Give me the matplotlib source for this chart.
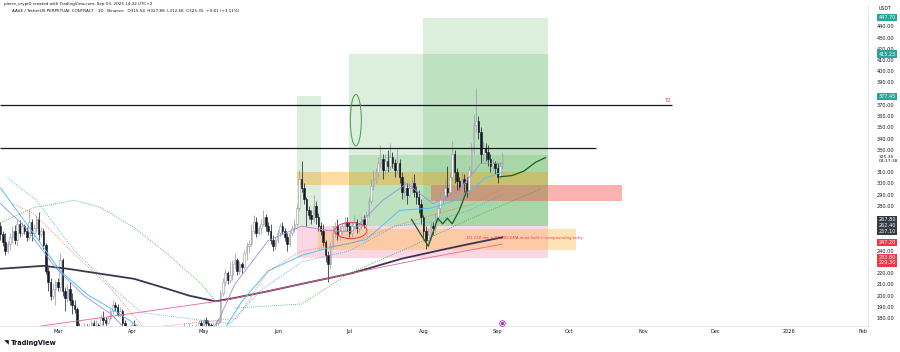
import numpy as np
import pandas as pd
import matplotlib
matplotlib.use("Agg")
import matplotlib.pyplot as plt
import matplotlib.dates as mdates
from matplotlib.patches import Rectangle, Ellipse

# -------------------- DATA --------------------
first_day = "2025-02-05"
first_open = 262.0
closes = [255, 248, 240, 246, 252, 258, 250, 264, 256, 262, 258, 252, 266, 256, 260, 268, 255, 258, 245, 222,
          212, 200, 206, 212, 208, 232, 204, 198, 206, 196, 192, 188, 170, 160, 168, 172, 166, 172, 176, 170,
          174, 170, 180, 178, 176, 180, 186, 192, 190, 184, 186, 176, 168, 166, 170, 174, 160, 156, 158, 152,
          140, 138, 130, 148, 140, 142, 146, 140, 142, 138, 136, 140, 142, 146, 144, 150, 162, 170, 168, 172,
          170, 166, 172, 176, 174, 178, 176, 174, 172, 174, 176, 178, 202, 212, 220, 214, 218, 228, 232, 222,
          228, 226, 238, 244, 246, 258, 266, 256, 260, 264, 270, 262, 258, 250, 244, 250, 256, 262, 258, 252,
          246, 256, 260, 264, 278, 304, 296, 286, 276, 272, 268, 280, 270, 262, 258, 248, 236, 228, 244, 256,
          262, 254, 258, 262, 266, 262, 256, 262, 266, 260, 262, 268, 264, 272, 284, 298, 304, 310, 318, 322,
          312, 320, 316, 324, 318, 312, 318, 306, 292, 296, 290, 296, 300, 292, 288, 282, 270, 258, 250, 254,
          262, 260, 270, 278, 286, 290, 296, 292, 306, 326, 310, 302, 298, 304, 300, 294, 312, 330, 352, 356,
          346, 326, 332, 328, 322, 316, 318, 314, 306, 315.54, 325.35]
highs = [266, 258, 256, 249, 256, 262, 263, 268, 267, 266, 264, 261, 277, 268, 264, 272, 275, 261, 260, 247,
         226, 216, 211, 214, 216, 238, 234, 208, 210, 212, 202, 196, 190, 176, 171, 176, 175, 175, 178, 178,
         178, 176, 184, 186, 181, 182, 188, 196, 194, 193, 190, 188, 178, 172, 174, 176, 178, 162, 162, 160,
         154, 146, 144, 150, 150, 146, 150, 148, 147, 144, 140, 142, 144, 148, 149, 156, 166, 176, 172, 176,
         174, 173, 175, 178, 178, 180, 181, 178, 176, 177, 178, 180, 205, 216, 224, 222, 230, 232, 238, 234,
         231, 230, 241, 248, 250, 264, 272, 270, 263, 268, 276, 273, 266, 264, 254, 252, 259, 265, 266, 260,
         256, 258, 263, 268, 282, 312, 320, 300, 288, 280, 276, 290, 284, 274, 266, 264, 250, 240, 248, 262,
         266, 268, 262, 265, 270, 270, 266, 266, 272, 268, 264, 271, 272, 275, 288, 304, 312, 314, 324, 334,
         326, 326, 330, 336, 328, 322, 332, 322, 310, 302, 300, 300, 306, 308, 298, 294, 286, 272, 262, 260,
         266, 266, 274, 282, 292, 298, 304, 316, 310, 338, 330, 314, 306, 310, 308, 306, 316, 336, 362, 385,
         360, 350, 338, 336, 334, 326, 322, 320, 318, 318, 327.88]
lows = [250, 244, 236, 238, 241, 247, 246, 244, 252, 253, 255, 249, 250, 249, 252, 257, 250, 252, 242, 219,
        204, 196, 197, 192, 204, 204, 200, 186, 194, 192, 184, 185, 166, 155, 152, 162, 162, 164, 170, 166,
        168, 166, 169, 174, 173, 175, 178, 184, 186, 182, 181, 172, 165, 163, 164, 167, 157, 150, 150, 150,
        136, 126, 128, 124, 136, 137, 139, 136, 138, 135, 132, 134, 138, 140, 141, 142, 148, 160, 162, 165,
        167, 164, 163, 169, 168, 172, 173, 171, 168, 169, 170, 172, 176, 200, 209, 210, 211, 214, 224, 218,
        219, 220, 224, 232, 238, 244, 255, 252, 254, 255, 262, 258, 254, 246, 240, 241, 247, 252, 255, 249,
        240, 244, 253, 257, 262, 276, 292, 282, 262, 268, 264, 266, 264, 258, 254, 244, 230, 212, 224, 242,
        252, 250, 250, 255, 258, 258, 252, 252, 260, 256, 257, 259, 260, 261, 270, 282, 294, 300, 306, 314,
        304, 308, 310, 312, 314, 306, 308, 300, 286, 286, 282, 288, 292, 288, 282, 274, 264, 252, 242, 246,
        250, 254, 256, 266, 274, 282, 284, 288, 288, 302, 300, 294, 294, 296, 292, 288, 290, 308, 326, 346,
        340, 318, 320, 320, 316, 310, 312, 308, 300, 304, 312.66]

# indicator lines, values read at anchor dates
ma_long_dates = ["2025-02-05", "2025-02-23", "2025-03-05", "2025-03-19", "2025-04-02", "2025-04-16", "2025-04-25",
                 "2025-05-06", "2025-05-14", "2025-05-28", "2025-06-11", "2025-07-02", "2025-07-23", "2025-08-09",
                 "2025-08-20", "2025-09-03"]
ma_long_vals = [224, 226.6, 224, 219.5, 215, 206, 200, 195, 198, 204, 210.5, 220, 233, 241, 246, 252]

ma_pink_dates = ["2025-02-22", "2025-04-02", "2025-05-10", "2025-06-11", "2025-07-02", "2025-08-01", "2025-09-03"]
ma_pink_vals = [173, 184.5, 196, 210.5, 220, 233, 246]

ema_purple_dates = ["2025-02-05", "2025-02-15", "2025-02-28", "2025-03-12", "2025-03-23", "2025-03-29", "2025-04-20",
                    "2025-05-06", "2025-05-14", "2025-05-28", "2025-06-11", "2025-06-22", "2025-07-02", "2025-07-15",
                    "2025-07-25", "2025-08-05", "2025-08-15", "2025-08-25", "2025-09-03"]
ema_purple_vals = [282, 262, 225, 200, 184, 171, 150, 172, 210, 249, 262, 258, 257, 285, 300, 282, 292, 318, 318]

ema_blue_dates = ["2025-02-05", "2025-02-18", "2025-03-02", "2025-03-14", "2025-03-23", "2025-04-05", "2025-04-25",
                  "2025-05-10", "2025-05-17", "2025-05-28", "2025-06-11", "2025-06-25", "2025-07-08", "2025-07-22",
                  "2025-08-04", "2025-08-16", "2025-08-27", "2025-09-03"]
ema_blue_vals = [296, 258, 222, 200, 189, 171, 152, 171, 195, 222, 236, 244, 250, 276, 278, 286, 305, 310]

orange_dot_dates = ["2025-02-10", "2025-02-19", "2025-03-08", "2025-03-23", "2025-04-06", "2025-05-15",
                    "2025-05-28", "2025-06-11", "2025-07-01", "2025-07-20", "2025-08-05", "2025-08-22", "2025-09-03"]
orange_dot_vals = [282, 273, 237, 207, 171, 180, 222, 240, 246, 262, 272, 282, 296]

blue_dot_dates = ["2025-02-08", "2025-02-20", "2025-03-08", "2025-03-25", "2025-04-05", "2025-05-12", "2025-05-25",
                  "2025-06-11", "2025-07-01", "2025-07-20", "2025-08-05", "2025-08-20", "2025-09-03"]
blue_dot_vals = [305, 285, 240, 205, 185, 175, 205, 230, 240, 262, 266, 276, 290]

green_dot_dates = ["2025-02-05", "2025-02-19", "2025-03-08", "2025-03-19", "2025-04-02", "2025-04-16", "2025-04-30",
                   "2025-05-06"]
green_dot_vals = [265, 278.5, 285, 278.5, 260.6, 237, 210.5, 195]
green_dot2_dates = ["2025-05-14", "2025-06-11", "2025-07-01", "2025-07-26", "2025-08-20", "2025-09-19"]
green_dot2_vals = [189, 192.6, 220, 243, 268, 295]

path_dates = ["2025-07-27", "2025-08-03", "2025-08-07", "2025-08-09", "2025-08-11", "2025-08-13", "2025-08-16",
              "2025-08-19"]
path_vals = [268, 244, 269, 264, 269, 264, 276, 293]
curve_dates = ["2025-09-02", "2025-09-07", "2025-09-12", "2025-09-17", "2025-09-21"]
curve_vals = [306, 307, 311, 319, 323]

# position / zone drawings: (start, end, low, high)
zones_green = [("2025-06-09", "2025-06-19", 262.4, 377.5),
               ("2025-07-01", "2025-09-22", 262.4, 415.23),
               ("2025-08-01", "2025-09-22", 262.4, 447.7),
               ("2025-07-01", "2025-09-22", 262.4, 325.0)]
zone_pink = ("2025-06-09", "2025-09-22", 233.8, 262.4)
zone_orange = ("2025-06-09", "2025-09-22", 299.0, 310.0)
zone_orange_low = ("2025-06-18", "2025-10-04", 241.0, 259.7)
zone_red = ("2025-08-04", "2025-10-23", 284.0, 299.0)

level_t2 = 369.8
level_t2_end = "2025-11-13"
level_b = 331.3
level_b_end = "2025-10-12"

price_ticks = list(range(180, 450, 10))
month_ticks = ["2025-03-01", "2025-04-01", "2025-05-01", "2025-06-01", "2025-07-01", "2025-08-01", "2025-09-01",
               "2025-10-01", "2025-11-01", "2025-12-01", "2026-01-01", "2026-02-01"]
month_labels = ["Mar", "Apr", "May", "Jun", "Jul", "Aug", "Sep", "Oct", "Nov", "Dec", "2026", "Feb"]

badges = [(447.70, "#26a69a", "447.70"), (415.23, "#26a69a", "415.23"), (377.45, "#26a69a", "377.45"),
          (267.80, "#363a45", "267.80"), (262.40, "#363a45", "262.40"), (257.10, "#363a45", "257.10"),
          (247.20, "#f23645", "247.20"), (233.80, "#f23645", "233.80"), (229.30, "#f23645", "229.30")]
last_price = 325.35

# -------------------- PLOT --------------------
def d(s):
    return mdates.date2num(pd.Timestamp(s))

dates = mdates.date2num(pd.date_range(first_day, periods=len(closes), freq="D"))
c = np.array(closes, dtype=float)
o = np.concatenate([[first_open], c[:-1]])
h = np.array(highs, dtype=float)
l = np.array(lows, dtype=float)

fig = plt.figure(figsize=(9, 3.52), dpi=100)
ax = fig.add_axes([0, 26 / 352, 868 / 900, 321 / 352])
ax.set_xlim(d("2025-02-05") - 0.2, d("2026-02-03"))
ax.set_ylim(173, 459)

# zones
def rect(z, color, alpha, zorder=1):
    s, e, lo, hi = z
    ax.add_patch(Rectangle((d(s), lo), d(e) - d(s), hi - lo, facecolor=color, alpha=alpha,
                           edgecolor="none", zorder=zorder))

for z in zones_green:
    rect(z, "#4caf50", 0.2)
rect(zone_pink, "#f48fb1", 0.35)
rect(zone_orange, "#ff9800", 0.35)
rect(zone_orange_low, "#ffb74d", 0.4)
rect(zone_red, "#f44336", 0.4)

# candles
up = c >= o
ax.vlines(dates[up], l[up], h[up], color="#9598a1", lw=0.5, zorder=3)
ax.vlines(dates[~up], l[~up], h[~up], color="#131722", lw=0.5, zorder=3)
body_lo = np.minimum(o, c)
body_h = np.maximum(np.abs(c - o), 0.4)
ax.bar(dates[up], body_h[up], bottom=body_lo[up], width=0.65, color="white", edgecolor="#9598a1",
       linewidth=0.4, zorder=4)
ax.bar(dates[~up], body_h[~up], bottom=body_lo[~up], width=0.65, color="#131722", edgecolor="#131722",
       linewidth=0.4, zorder=4)

# indicators
def line(ds, vs, **kw):
    ax.plot([d(x) for x in ds], vs, zorder=5, **kw)

line(ma_long_dates, ma_long_vals, color="#3b3452", lw=1.3)
line(ma_pink_dates, ma_pink_vals, color="#f06292", lw=0.6)
line(ema_purple_dates, ema_purple_vals, color="#9c8ce0", lw=0.6)
line(ema_blue_dates, ema_blue_vals, color="#4fc3f7", lw=0.7)
line(orange_dot_dates, orange_dot_vals, color="#ff7043", lw=0.6, ls=(0, (1, 1.5)))
line(blue_dot_dates, blue_dot_vals, color="#42a5f5", lw=0.6, ls=(0, (1, 1.5)))
line(green_dot_dates, green_dot_vals, color="#43a047", lw=0.6, ls=(0, (1, 1.5)))
line(green_dot2_dates, green_dot2_vals, color="#43a047", lw=0.6, ls=(0, (1, 1.5)))
line(path_dates, path_vals, color="#1b5e20", lw=0.9)
line(curve_dates, curve_vals, color="#1b5e20", lw=0.9)

# horizontal levels
ax.hlines(level_t2, ax.get_xlim()[0], d(level_t2_end), color="#131722", lw=0.9, zorder=6)
ax.hlines(level_b, ax.get_xlim()[0], d(level_b_end), color="#131722", lw=0.9, zorder=6)
ax.text(d(level_t2_end), level_t2 + 1.5, "T2", color="#f23645", fontsize=3.8, ha="right", va="bottom",
        zorder=7)

# ellipses
ax.add_patch(Ellipse((d("2025-07-03") + 0.7, 356.4), 4.6, 45.7, fill=False, edgecolor="#43a047", lw=0.7,
                     zorder=7))
ax.add_patch(Ellipse((d("2025-07-01") + 0.6, 258), 13.4, 14.3, fill=False, edgecolor="#f23645", lw=0.7,
                     zorder=7))

ax.text(d("2025-08-19"), 251, "D1 150 ma + D1 200 EMA must hold + compounding entry", color="#f23645",
        fontsize=2.8, style="italic", ha="left", va="center", zorder=7)

# axes styling
for side in ["left", "top"]:
    ax.spines[side].set_visible(False)
for side in ["right", "bottom"]:
    ax.spines[side].set_color("#e0e3eb")
    ax.spines[side].set_linewidth(0.6)
ax.yaxis.tick_right()
# tick labels hidden where a badge sits on top of them (as TradingView does)
marks = [b[0] for b in badges] + [last_price, last_price - 4]
shown = [p for p in price_ticks if min(abs(p - m) for m in marks) > 4.6]
ax.set_yticks(shown)
ax.set_yticklabels([f"{p:.2f}" for p in shown])
ax.set_xticks([d(m) for m in month_ticks])
ax.set_xticklabels(month_labels)
ax.tick_params(axis="both", length=0, labelsize=3.6, labelcolor="#131722")
ax.tick_params(axis="y", pad=6)
ax.tick_params(axis="x", pad=2)

# price badges
for val, col, txt in badges:
    ax.text(1.012, val, txt, transform=ax.get_yaxis_transform(), fontsize=3.6, color="white", ha="left",
            va="center", bbox=dict(boxstyle="square,pad=0.25", fc=col, ec="none"), zorder=10, clip_on=False)
ax.text(1.012, last_price, "325.35\n04:17:38", transform=ax.get_yaxis_transform(), fontsize=3.2,
        color="#131722", ha="left", va="top", linespacing=1.0, clip_on=False)
ax.text(1.012, 456, "USDT", transform=ax.get_yaxis_transform(), fontsize=3.4, color="#131722", ha="left",
        va="center", clip_on=False)

# event icon
ax.plot([d("2025-09-03")], [176], marker="o", ms=4, mfc="white", mec="#9c27b0", mew=0.6, zorder=8)
ax.plot([d("2025-09-03")], [176], marker="o", ms=1.2, color="#9c27b0", zorder=9)

# header and logo
fig.text(4 / 900, 1 - 4 / 352, "pierre_crypt0 created with TradingView.com, Sep 03, 2025 14:22 UTC+2",
         fontsize=3.0, color="#131722", va="center")
fig.text(12 / 900, 1 - 11 / 352,
         "AAVE / TetherUS PERPETUAL CONTRACT \u00b7 1D \u00b7 Binance   O315.54  H327.88  L312.66  C325.35  +9.81 (+3.11%)",
         fontsize=3.0, color="#131722", va="center")
fig.text(4 / 900, 9 / 352, "\u25e5", fontsize=4.5, color="#131722", va="center")
fig.text(11 / 900, 9 / 352, "TradingView", fontsize=4.8, fontweight="bold", color="#131722", va="center")

fig.savefig("out.png", dpi=100, facecolor="white")
